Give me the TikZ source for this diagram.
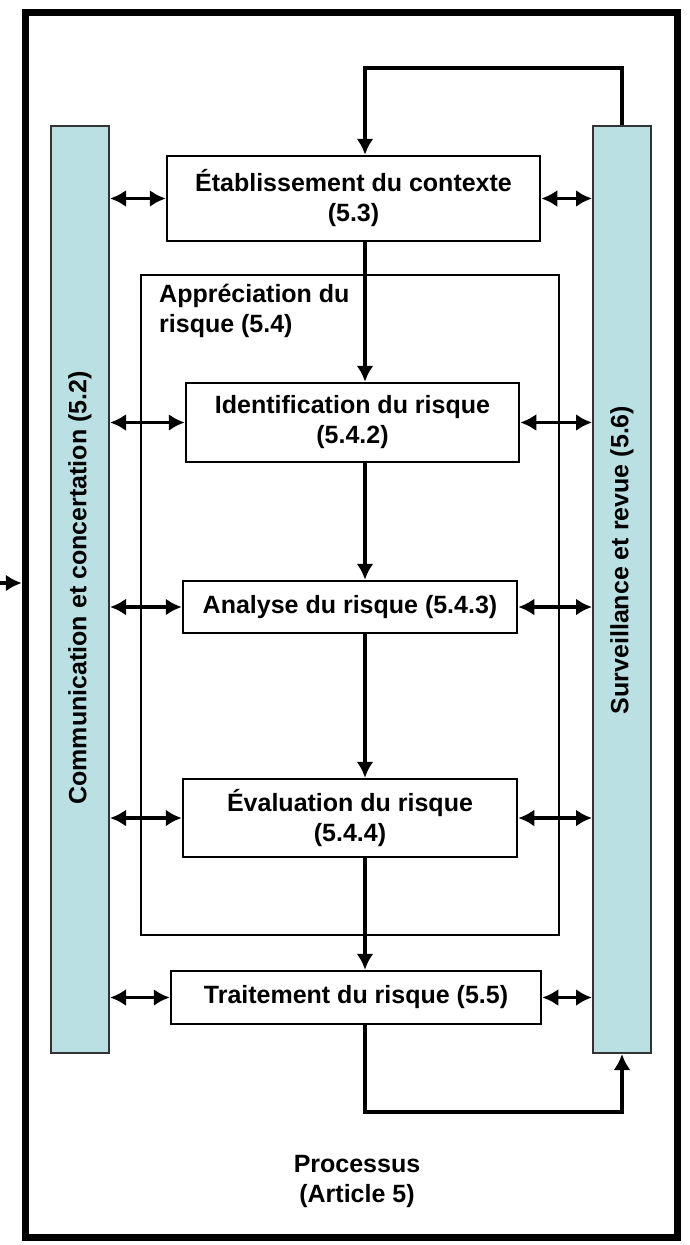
\documentclass[tikz,border=0pt]{standalone}
\usepackage{fontspec}
\setmainfont{Liberation Sans}
\usetikzlibrary{arrows.meta}
\definecolor{barblue}{RGB}{186,224,228}
\tikzset{
  x=1pt,y=-1pt,
  txt/.style={font=\bfseries\fontsize{25}{30}\selectfont, align=center, text=black},
  stepbox/.style={draw, line width=2.5pt, fill=white, inner sep=0pt, txt},
  bar/.style={draw=black!80, line width=2pt, fill=barblue, inner sep=0pt, minimum width=58pt, minimum height=927pt},
  tip/.tip={Latex[length=16pt,width=17pt]},
  conn/.style={line width=3.5pt, -tip},
  dconn/.style={line width=3.5pt, tip-tip},
}
\begin{document}
\begin{tikzpicture}
\useasboundingbox (0,0) rectangle (690,1245);
% outer frame
\node[draw, line width=7.5pt, minimum width=652pt, minimum height=1225pt, inner sep=0pt] (frame) at (351.5,625) {};
% side bars
\node[bar] (lbar) at (80,589.5) {};
\node[bar] (rbar) at (622,589.5) {};
\node[txt, rotate=90] (ltxt) at (80,588) {Communication et concertation (5.2)};
\node[txt, rotate=90] (rtxt) at (622,560) {Surveillance et revue (5.6)};
% risk assessment frame
\node[draw, line width=2pt, minimum width=418pt, minimum height=660pt, inner sep=0pt] (appr) at (350,605) {};
\node[txt, align=left, anchor=north west, inner sep=0pt] (apprtxt) at (159,284) {Appréciation du\\risque (5.4)};
% steps
\node[stepbox, minimum width=373pt, minimum height=85pt] (etab) at (353.5,198.5) {Établissement du contexte\\(5.3)};
\node[stepbox, minimum width=333pt, minimum height=79pt] (ident) at (352.5,422.5) {Identification du risque\\(5.4.2)};
\node[stepbox, minimum width=334pt, minimum height=52pt] (anal) at (350,607) {Analyse du risque (5.4.3)};
\node[stepbox, minimum width=334pt, minimum height=78pt] (eval) at (350,818) {Évaluation du risque\\(5.4.4)};
\node[stepbox, minimum width=370pt, minimum height=53pt] (trait) at (356,997.5) {Traitement du risque (5.5)};
% bottom label
\node[txt] (proc) at (357,1181) {Processus\\(Article 5)};
% helper coordinates
\coordinate (axis) at (365,0);
\coordinate (topy) at (0,68);
\coordinate (boty) at (0,1112);
\coordinate (inA) at (-6,583);
% vertical flow
\draw[conn] (etab.south -| axis) -- (ident.north -| axis);
\draw[conn] (ident.south -| axis) -- (anal.north -| axis);
\draw[conn] (anal.south -| axis) -- (eval.north -| axis);
\draw[conn] (eval.south -| axis) -- (trait.north -| axis);
% loops
\draw[conn, line join=miter] (rbar.north) -- (rbar.north |- topy) -- (axis |- topy) -- (etab.north -| axis);
\draw[conn, line join=miter] (trait.south -| axis) -- (axis |- boty) -- (rbar.south |- boty) -- (rbar.south);
% horizontal double arrows
\foreach \b in {etab,ident,anal,eval,trait}{
  \draw[dconn] (lbar.east |- \b.west) -- (\b.west);
  \draw[dconn] (\b.east) -- (rbar.west |- \b.east);
}
% incoming arrow
\draw[conn] (inA) -- (frame.west |- inA);
\end{tikzpicture}
\end{document}
